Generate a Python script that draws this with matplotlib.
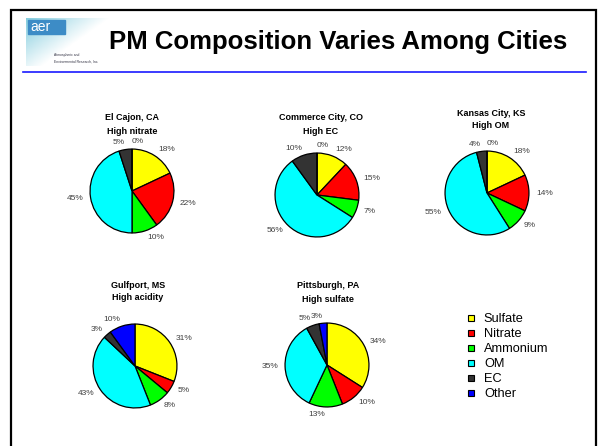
import numpy as np
import matplotlib
matplotlib.use("Agg")
from matplotlib import pyplot as plt
from matplotlib.patches import Rectangle
from matplotlib.lines import Line2D

plt.rcParams['font.family'] = ['Liberation Sans', 'DejaVu Sans']

# data
components = ["Sulfate", "Nitrate", "Ammonium", "OM", "EC", "Other"]
colors = ["#ffff00", "#ff0000", "#00ff00", "#00ffff", "#333333", "#0000ff"]

cities = ["El Cajon, CA", "Commerce City, CO", "Kansas City, KS", "Gulfport, MS", "Pittsburgh, PA"]
subtitles = ["High nitrate", "High EC", "High OM", "High acidity", "High sulfate"]
el_cajon = [18, 22, 10, 45, 5, 0]
commerce = [12, 15, 7, 56, 10, 0]
kansas = [18, 14, 9, 55, 4, 0]
gulfport = [31, 5, 8, 43, 3, 10]
pittsburgh = [34, 10, 13, 35, 5, 3]
shares = [el_cajon, commerce, kansas, gulfport, pittsburgh]

# layout in pixels (pie centre x, y, title line 1 y, title line 2 y)
W, H = 600, 446
centers = [(132, 191), (317, 195), (487, 193), (135, 366), (327, 365)]
title_y = [(117, 131), (117, 131), (113, 126), (286, 298), (286, 299)]
title_dx = [0, 4, 4, 3, 1]

def fx(x):
    return x / W

def fy(y):
    return 1 - y / H

def box(x0, y0, x1, y1):
    return [x0 / W, 1 - y1 / H, (x1 - x0) / W, (y1 - y0) / H]

fig = plt.figure(figsize=(6, 4.46), dpi=100)

# slide frame
fig.add_artist(Rectangle((fx(11), fy(470)), (596 - 11) / W, (470 - 10) / H,
                         transform=fig.transFigure, fill=False,
                         edgecolor="black", linewidth=1.6))
fig.add_artist(Line2D([fx(23), fx(586)], [fy(72), fy(72)],
                      transform=fig.transFigure, color="#1a1aff", linewidth=1.2))
fig.text(fx(338), fy(42), "PM Composition Varies Among Cities",
         ha="center", va="center", fontsize=18.5, fontweight="bold")

# logo
lax = fig.add_axes(box(26, 18, 118, 66))
gx, gy = np.meshgrid(np.linspace(0, 1, 80), np.linspace(0, 1, 40))
alpha = np.clip(1 - (1.1 * gx + 0.8 * gy), 0, 1) * 0.8
img = np.zeros((40, 80, 4))
img[..., 0] = 0.40
img[..., 1] = 0.76
img[..., 2] = 0.84
img[..., 3] = alpha
lax.imshow(img, extent=(0, 1, 0, 1), aspect="auto", origin="upper")
lax.add_patch(Rectangle((0.02, 0.66), 0.4, 0.3, color="#3d8cc6"))
lax.text(0.05, 0.81, "aer", color="white", fontsize=10, va="center", ha="left")
lax.text(0.3, 0.2, "Atmospheric and", fontsize=2.4, color="#334")
lax.text(0.3, 0.08, "Environmental Research, Inc.", fontsize=2.4, color="#334")
lax.set_xlim(0, 1)
lax.set_ylim(0, 1)
lax.axis("off")

# pies
for i in range(len(cities)):
    cx, cy = centers[i]
    vals = shares[i]
    ax = fig.add_axes(box(cx - 60, cy - 60, cx + 60, cy + 60))
    wedges, texts = ax.pie(vals, colors=colors, startangle=90, counterclock=False,
                           labels=[f"{v}%" if v > 0 or i < 3 else "" for v in vals],
                           labeldistance=1.17,
                           wedgeprops=dict(edgecolor="black", linewidth=0.9),
                           textprops=dict(fontsize=6, color="#404040"))
    for v, t in zip(vals, texts):
        if v == 0:
            t.set_ha("left")
    ax.set_xlim(-1.43, 1.43)
    ax.set_ylim(-1.43, 1.43)
    ax.set_aspect("equal")
    ax.axis("off")
    fig.text(fx(cx + title_dx[i]), fy(title_y[i][0]), cities[i], ha="center", va="center",
             fontsize=6.5, fontweight="bold")
    fig.text(fx(cx + title_dx[i]), fy(title_y[i][1]), subtitles[i], ha="center", va="center",
             fontsize=6.5, fontweight="bold")

# legend
handles = [Line2D([], [], marker="s", linestyle="none", markersize=4.2,
                  markerfacecolor=c, markeredgecolor="black", markeredgewidth=0.8)
           for c in colors]
fig.legend(handles, components, loc="upper left", bbox_to_anchor=(fx(466), fy(313)),
           frameon=False, fontsize=9.2, handlelength=0.8, handletextpad=0.6,
           labelspacing=0.24, borderpad=0, borderaxespad=0)

fig.savefig("out.png", dpi=100)
